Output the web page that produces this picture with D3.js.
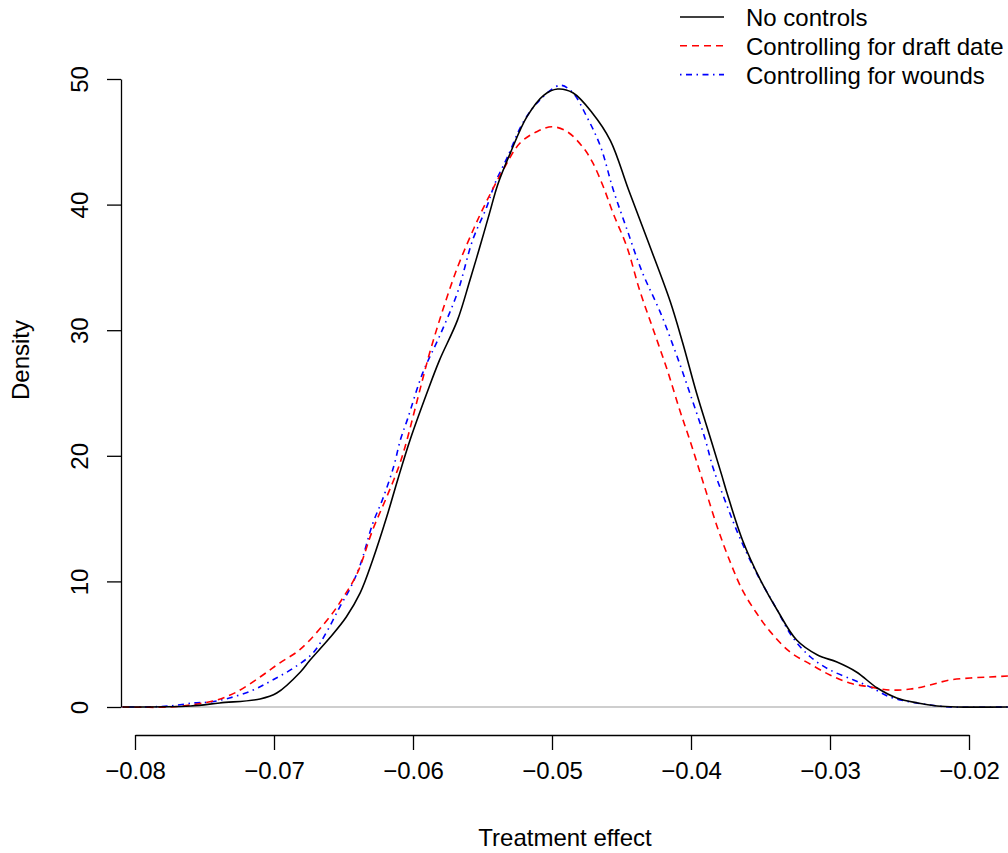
<!DOCTYPE html>
<html>
<head>
<meta charset="utf-8">
<script src="https://cdn.jsdelivr.net/npm/d3@7"></script>
<style>
  body { margin: 0; background: #fff; }
  svg { display: block; font-family: "Liberation Sans", Arial, sans-serif; }
</style>
</head>
<body>
<script>
// density estimates, one pair of arrays per series
const noCtrlX = [-0.0809,-0.0760,-0.0739,-0.0710,-0.0698,-0.0681,-0.0674,-0.0660,-0.0648,-0.0638,-0.0629,-0.0619,-0.0611,-0.0602,-0.0590,-0.0581,-0.0568,-0.0559,-0.0552,-0.0545,-0.0539,-0.0530,-0.0518,-0.0506,-0.0496,-0.0485,-0.0471,-0.0458,-0.0445,-0.0430,-0.0415,-0.0406,-0.0396,-0.0386,-0.0378,-0.0374,-0.0363,-0.0350,-0.0338,-0.0324,-0.0309,-0.0295,-0.0281,-0.0266,-0.0252,-0.0237,-0.0223,-0.0209,-0.0172];
const noCtrlY = [0,0.08,0.32,0.64,1.11,2.79,3.74,5.49,7.17,9.08,11.7,15.1,18.1,21.3,25.0,27.6,30.8,34.0,36.6,39.3,41.6,44.1,47.0,48.7,49.2,48.9,47.3,45.1,41.2,36.8,32.3,29.0,25.0,21.4,18.5,17.0,13.3,10.1,7.72,5.33,4.14,3.58,2.79,1.51,0.72,0.32,0.08,0,0];

const draftX = [-0.0809,-0.0775,-0.0755,-0.0741,-0.0727,-0.0710,-0.0696,-0.0681,-0.0660,-0.0650,-0.0640,-0.0629,-0.0619,-0.0611,-0.0606,-0.0597,-0.0588,-0.0578,-0.0568,-0.0559,-0.0550,-0.0535,-0.0523,-0.0511,-0.0500,-0.0489,-0.0478,-0.0471,-0.0463,-0.0456,-0.0446,-0.0437,-0.0427,-0.0417,-0.0408,-0.0401,-0.0391,-0.0381,-0.0372,-0.0363,-0.0353,-0.0343,-0.0329,-0.0314,-0.0300,-0.0286,-0.0271,-0.0257,-0.0242,-0.0228,-0.0214,-0.0199,-0.0185,-0.0172];
const draftY = [0,0,0.24,0.56,1.19,2.39,3.5,4.6,7.17,8.76,10.67,14.1,16.7,18.9,20.6,24.4,28.2,31.8,35.0,37.4,39.6,42.8,44.9,45.8,46.2,45.8,44.6,43.4,41.4,39.3,36.6,33.2,30.0,26.8,23.6,21.3,17.8,14.3,11.6,9.3,7.5,6.0,4.4,3.4,2.55,1.91,1.59,1.35,1.43,1.75,2.15,2.31,2.39,2.47];

const woundsX = [-0.0809,-0.0796,-0.0775,-0.0758,-0.0746,-0.0732,-0.0715,-0.0701,-0.0686,-0.0672,-0.0662,-0.0653,-0.0645,-0.0638,-0.0629,-0.0622,-0.0614,-0.0609,-0.0604,-0.0593,-0.0581,-0.0568,-0.0557,-0.0547,-0.0541,-0.0532,-0.0521,-0.0509,-0.0494,-0.0485,-0.0475,-0.0465,-0.0456,-0.0446,-0.0435,-0.0422,-0.0410,-0.0399,-0.0390,-0.0384,-0.0374,-0.0365,-0.0353,-0.0338,-0.0327,-0.0314,-0.0300,-0.0283,-0.0271,-0.0257,-0.0242,-0.0228,-0.0214,-0.0172];
const woundsY = [0,0,0.08,0.32,0.4,0.72,1.35,2.15,3.1,4.3,6.0,7.9,9.5,11.3,14.6,16.5,19.1,21.3,22.9,26.6,29.5,33.0,37.2,39.8,41.7,43.8,46.5,48.3,49.5,48.9,47.0,44.6,41.2,38.0,34.6,31.4,27.9,24.4,21.4,19.0,16.0,13.5,10.7,7.72,5.57,3.98,2.95,2.15,1.59,0.8,0.4,0.16,0,0];

const xTicks = [-0.08, -0.07, -0.06, -0.05, -0.04, -0.03, -0.02];
const yTicks = [0, 10, 20, 30, 40, 50];
const seriesNames = ["No controls", "Controlling for draft date", "Controlling for wounds"];

const width = 1008, height = 853;
const fs = 24;

const svg = d3.select("body").append("svg")
    .attr("width", width).attr("height", height);

const x = d3.scaleLinear().domain([-0.08, -0.02]).range([135, 969]);
const y = d3.scaleLinear().domain([0, 50]).range([707, 79]);

// zero reference line
svg.append("line")
    .attr("x1", 121).attr("x2", width)
    .attr("y1", y(0)).attr("y2", y(0))
    .attr("stroke", "#bebebe").attr("stroke-width", 1.3);

const series = [
    {name: seriesNames[0], xs: noCtrlX, ys: noCtrlY, color: "#000", dash: null},
    {name: seriesNames[1], xs: draftX, ys: draftY, color: "#ff0000", dash: "7,5"},
    {name: seriesNames[2], xs: woundsX, ys: woundsY, color: "#0000ff", dash: "1.5,4.5,6,4.5"}
];

const line = d3.line()
    .x(d => x(d[0])).y(d => y(d[1]))
    .curve(d3.curveCatmullRom.alpha(0.5));

series.slice().reverse().forEach(s => {
    svg.append("path")
        .datum(s.xs.map((v, i) => [v, s.ys[i]]))
        .attr("d", line)
        .attr("fill", "none")
        .attr("stroke", s.color)
        .attr("stroke-width", 1.6)
        .attr("stroke-dasharray", s.dash);
});

// x axis
const xAxis = svg.append("g")
    .attr("transform", "translate(0,735)")
    .call(d3.axisBottom(x).tickValues(xTicks).tickSize(15).tickSizeOuter(0).tickPadding(12)
        .tickFormat(d3.format(".2f")));
xAxis.select(".domain").attr("stroke", "#000").attr("stroke-width", 1.3);
xAxis.selectAll(".tick line").attr("stroke", "#000").attr("stroke-width", 1.3);
xAxis.selectAll("text").attr("font-size", fs).attr("fill", "#000")
    .attr("font-family", "Liberation Sans, Arial, sans-serif");

// y axis
const yAxis = svg.append("g")
    .attr("transform", "translate(121,0)")
    .call(d3.axisLeft(y).tickValues(yTicks).tickSize(14).tickSizeOuter(0).tickFormat(d3.format("d")));
yAxis.select(".domain").attr("stroke", "#000").attr("stroke-width", 1.3);
yAxis.selectAll(".tick line").attr("stroke", "#000").attr("stroke-width", 1.3);
yAxis.selectAll("text")
    .attr("font-size", fs).attr("fill", "#000")
    .attr("font-family", "Liberation Sans, Arial, sans-serif")
    .attr("x", null).attr("dy", null)
    .attr("text-anchor", "middle")
    .attr("transform", "translate(-33,0) rotate(-90)");

// axis titles
svg.append("text")
    .attr("x", 565).attr("y", 846)
    .attr("text-anchor", "middle").attr("font-size", fs)
    .text("Treatment effect");
svg.append("text")
    .attr("transform", "translate(29,360) rotate(-90)")
    .attr("text-anchor", "middle").attr("font-size", fs)
    .text("Density");

// legend
const legend = svg.append("g");
series.forEach((s, i) => {
    const ly = 17 + i * 28.8;
    legend.append("line")
        .attr("x1", 680).attr("x2", 724)
        .attr("y1", ly).attr("y2", ly)
        .attr("stroke", s.color).attr("stroke-width", 1.6)
        .attr("stroke-dasharray", s.dash);
    legend.append("text")
        .attr("x", 746).attr("y", ly + 9)
        .attr("font-size", fs)
        .text(s.name);
});
</script>
</body>
</html>
